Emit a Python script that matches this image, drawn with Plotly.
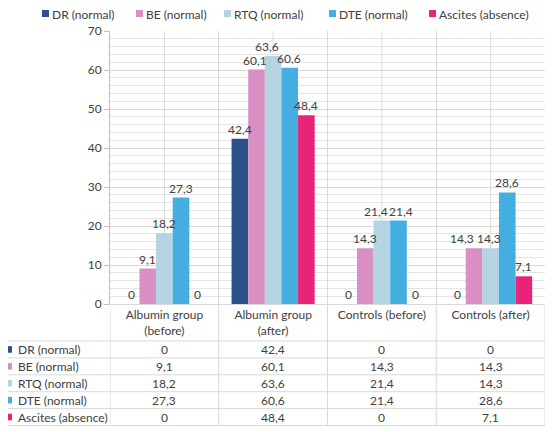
import plotly.graph_objects as go

categories = ["Albumin group<br>(before)", "Albumin group<br>(after)", "Controls (before)", "Controls (after)"]
series_names = ["DR (normal)", "BE (normal)", "RTQ (normal)", "DTE (normal)", "Ascites (absence)"]
dr = [0, 42.4, 0, 0]
be = [9.1, 60.1, 14.3, 14.3]
rtq = [18.2, 63.6, 21.4, 14.3]
dte = [27.3, 60.6, 21.4, 28.6]
ascites = [0, 48.4, 0, 7.1]
colors = ["#2C5189", "#DA8FC4", "#B4D4E1", "#45AEE0", "#E7247A"]
y_ticks = [0, 10, 20, 30, 40, 50, 60, 70]

series_values = [dr, be, rtq, dte, ascites]

FONT = "Lato, Open Sans, sans-serif"
TXT = "#404040"
GRID = "#D9D9D9"

# label nudges (px) per series x category, so neighbouring labels do not collide
label_nudge = [
    [0, 0, 0, 0],
    [0, -2, 0, -12],
    [0, -6, -6, -2],
    [0, -1, 3, 0],
    [0, 0, 0, 0],
]


def fmt(v):
    return f"{v:g}".replace(".", ",")


# The page body has an 8px margin; screen coordinates below are those of the reference.
OFF = 8
SW, SH = 553, 432
L, R, T, B = 110, 545, 31, 304  # plot area in screen px
W, H = R - L, B - T
BARGAP = 0.236
bar_w = (W / len(categories)) * (1 - BARGAP) / len(series_names)

fig = go.Figure()
for name, vals, col in zip(series_names, series_values, colors):
    fig.add_trace(go.Bar(
        x=categories, y=vals, name=name, marker=dict(color=col, line=dict(width=0)),
        showlegend=False, hoverinfo="x+y",
    ))


def px(xs):
    return (xs - L) / W


def py(ys):
    return (B - ys) / H


shapes = []
annotations = []

# bar value labels
for s, (vals, nudges) in enumerate(zip(series_values, label_nudge)):
    for c, v, n in zip(categories, vals, nudges):
        annotations.append(dict(xref="x", yref="y", x=c, y=v, xanchor="center", yanchor="bottom",
                                xshift=(s - 2) * bar_w + n, yshift=0, showarrow=False,
                                text=fmt(v), font=dict(family=FONT, size=12, color=TXT)))

# vertical gridlines at category centres
for c in categories:
    shapes.append(dict(type="line", xref="x", yref="paper", x0=c, x1=c, y0=0, y1=1,
                       line=dict(color=GRID, width=1), layer="below"))

# top legend
legend_x = [42, 136, 224, 329, 429]
LEG_Y = 14.5
for name, col, lx in zip(series_names, colors, legend_x):
    shapes.append(dict(type="rect", xref="paper", yref="paper",
                       x0=px(lx), x1=px(lx + 7), y0=py(LEG_Y + 2.5), y1=py(LEG_Y - 4.5),
                       fillcolor=col, line=dict(width=0)))
    annotations.append(dict(xref="paper", yref="paper", x=px(lx + 9), y=py(LEG_Y),
                            xanchor="left", yanchor="middle", showarrow=False, borderpad=0,
                            text=name, font=dict(family=FONT, size=12, color=TXT)))

# data table
row_tops = [341 + i * 16.9 for i in range(6)]
tbl_left = 2.5
tbl_bottom = row_tops[-1]
for yt in row_tops:
    shapes.append(dict(type="line", xref="paper", yref="paper", x0=px(tbl_left), x1=1,
                       y0=py(yt), y1=py(yt), line=dict(color=GRID, width=1)))
shapes.append(dict(type="line", xref="paper", yref="paper", x0=px(tbl_left), x1=px(tbl_left),
                   y0=py(row_tops[0]), y1=py(tbl_bottom), line=dict(color=GRID, width=1)))
for i in range(len(categories) + 1):
    shapes.append(dict(type="line", xref="x", yref="paper", x0=i - 0.5, x1=i - 0.5,
                       y0=0, y1=py(tbl_bottom), line=dict(color=GRID, width=1)))

for r, (name, vals, col) in enumerate(zip(series_names, series_values, colors)):
    yc = (row_tops[r] + row_tops[r + 1]) / 2
    shapes.append(dict(type="rect", xref="paper", yref="paper",
                       x0=px(5.5), x1=px(12), y0=py(yc + 3.3), y1=py(yc - 3.3),
                       fillcolor=col, line=dict(width=0)))
    annotations.append(dict(xref="paper", yref="paper", x=px(15.5), y=py(yc),
                            xanchor="left", yanchor="middle", showarrow=False,
                            text=name, font=dict(family=FONT, size=12, color=TXT)))
    for c, v in zip(categories, vals):
        annotations.append(dict(xref="x", yref="paper", x=c, y=py(yc),
                                xanchor="center", yanchor="middle", showarrow=False,
                                text=fmt(v), font=dict(family=FONT, size=12, color=TXT)))

fig.update_layout(
    width=SW - OFF, height=SH - OFF,
    margin=dict(l=L - OFF, r=SW - R, t=T - OFF, b=SH - B, autoexpand=False),
    paper_bgcolor="white", plot_bgcolor="white",
    barmode="group", bargap=BARGAP, bargroupgap=0,
    font=dict(family=FONT, size=12, color=TXT),
    shapes=shapes, annotations=annotations,
    xaxis=dict(type="category", tickson="boundaries", showgrid=True, gridcolor=GRID,
               showline=True, linecolor=GRID, ticks="", tickfont=dict(family=FONT, size=12, color=TXT),
               range=[-0.5, 3.5], fixedrange=True),
    yaxis=dict(range=[0, 70], tickvals=y_ticks, showgrid=True, gridcolor=GRID,
               showline=True, linecolor="#BFBFBF", ticks="outside", ticklen=5, tickcolor="#BFBFBF",
               zeroline=False, tickfont=dict(family=FONT, size=12, color=TXT),
               minor=dict(dtick=2, showgrid=True, gridcolor="#E4E4E4", ticks=""),
               fixedrange=True),
)

fig.write_html("out.html")
